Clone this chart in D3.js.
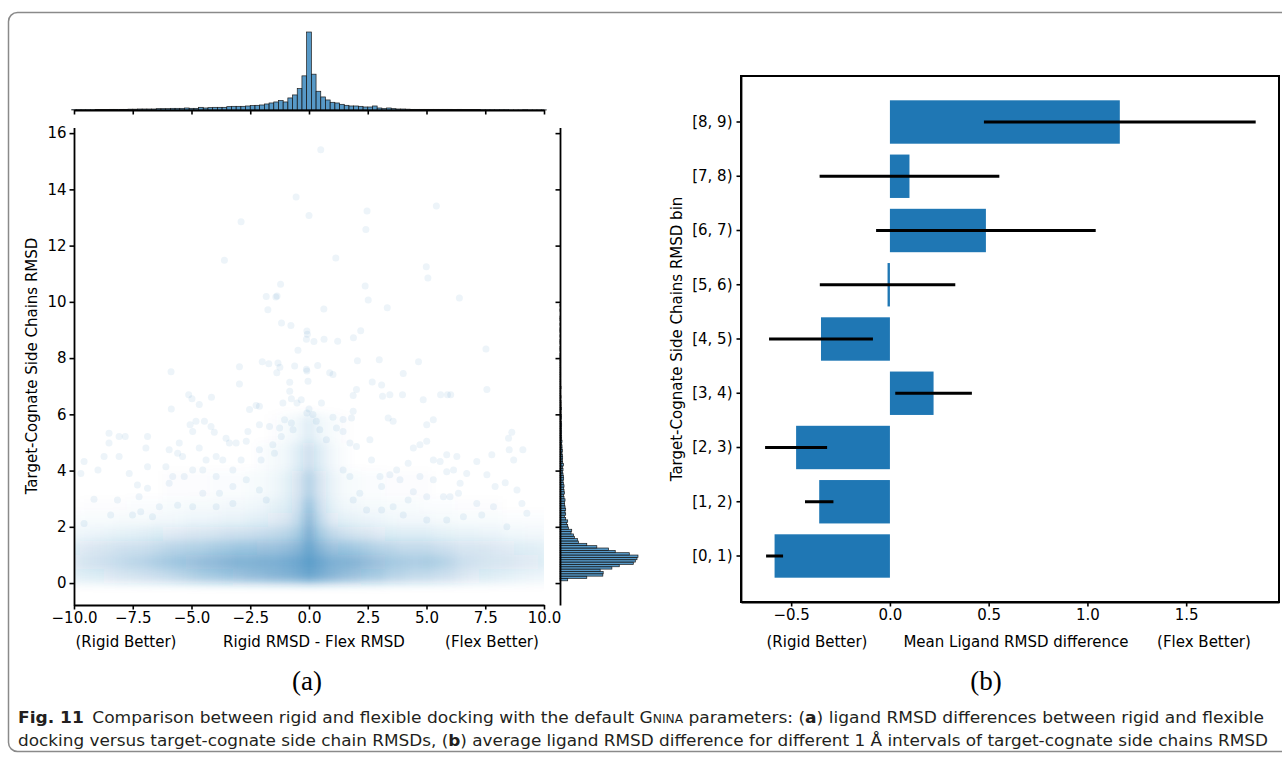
<!DOCTYPE html>
<html>
<head>
<meta charset="utf-8">
<script src="https://cdn.jsdelivr.net/npm/d3@7"></script>
<style>
  body { margin: 0; background: #fff; }
  svg text { font-family: "DejaVu Sans", sans-serif; fill: #000; }
</style>
</head>
<body>
<div id="chart"></div>
<script>
// ---- panel (a): marginal histogram of Rigid RMSD - Flex RMSD, bins of 0.2 starting at -10.1
const xHistStart = -10.1;
const xHistBinWidth = 0.2;
const xHistCounts = [
  1, 1, 1, 1, 1, 1.5, 1.5, 1.5,
  2, 2, 2, 2, 2.5, 2.5, 3, 3,
  3, 3, 4, 4, 4, 5, 5, 5, 6,
  5, 5, 8, 6, 7, 8, 8, 8, 10, 11, 11, 11, 12, 13, 14, 15, 18, 21, 24, 28, 24, 36, 45, 64, 102,
  233,
  107, 56, 39, 30, 23, 21, 17, 14, 12, 12, 11, 9, 9, 12, 6, 4, 6, 4, 3, 3, 2.5, 2, 2, 2, 2,
  2, 2, 2, 2, 2, 1.5, 2, 1.5, 1.5, 1.5, 1.5, 1, 1, 1, 1, 1, 1, 0.5, 0.5, 0.5, 1, 0.5, 0.5, 0.5, 0.5
];

// marginal histogram of side chain RMSD, bins of 1/12 starting at 0.08
const yHistStart = 0.08;
const yHistBinWidth = 1 / 12;
const yHistCounts = [
  23, 80, 128, 129, 120, 155, 177, 219, 225, 230, 233, 207, 165, 145, 110, 80, 55, 52, 43, 40,
  33, 35, 25, 23, 20, 23, 17, 13, 17, 15, 17,
  15, 14, 13, 15, 12, 11, 13, 12,
  11, 12, 10, 9, 11, 10, 9, 8,
  9, 8, 10, 8, 7, 8, 7, 6,
  7, 6, 6, 5, 6, 5, 5, 4, 5, 4,
  4, 5, 4, 3, 4, 4, 3, 3, 4, 3, 3, 3,
  2, 3, 2, 2, 2, 3, 2, 2, 2, 1, 2, 2, 1, 2, 1, 1, 2, 1,
  1, 1, 0, 1, 1, 0, 1, 1, 0, 1, 0, 1, 1, 0, 1, 0, 1, 1, 0, 0, 1, 0, 1, 0
];

const densityXStart = -10;   // cell centres every 0.5
const densityXStep = 0.5;
const densityRowEdges = [0, 0.5, 1, 1.5, 2, 2.5, 3, 4, 5, 6];
const densityRow0 = [0.11,0.13,0.14,0.16,0.19,0.2,0.22,0.24,0.27,0.3,0.34,0.38,0.4,0.43,0.46,0.49,0.51,0.54,0.57,0.6,0.66,0.6,0.54,0.49,0.45,0.4,0.38,0.32,0.3,0.27,0.27,0.24,0.22,0.18,0.15,0.14,0.12,0.11,0.09,0.08,0.07];
const densityRow1 = [0.16,0.2,0.22,0.24,0.27,0.3,0.32,0.36,0.4,0.43,0.46,0.49,0.51,0.54,0.57,0.57,0.58,0.59,0.62,0.65,0.72,0.65,0.59,0.57,0.54,0.49,0.45,0.4,0.38,0.36,0.38,0.35,0.3,0.24,0.22,0.2,0.19,0.18,0.16,0.15,0.13];
const densityRow2 = [0.13,0.16,0.18,0.2,0.22,0.23,0.24,0.27,0.3,0.32,0.34,0.35,0.38,0.4,0.43,0.43,0.45,0.46,0.49,0.54,0.66,0.54,0.46,0.43,0.4,0.36,0.32,0.3,0.27,0.27,0.27,0.24,0.22,0.19,0.19,0.18,0.16,0.15,0.13,0.12,0.11];
const densityRow3 = [0.06,0.07,0.08,0.09,0.1,0.11,0.12,0.14,0.15,0.16,0.18,0.19,0.2,0.22,0.23,0.24,0.26,0.28,0.31,0.38,0.58,0.38,0.28,0.23,0.2,0.18,0.15,0.14,0.13,0.13,0.13,0.11,0.1,0.09,0.09,0.08,0.08,0.06,0.06,0.05,0.05];
const densityRow4 = [0.02,0.03,0.03,0.03,0.04,0.04,0.04,0.05,0.05,0.06,0.07,0.07,0.08,0.09,0.09,0.11,0.12,0.15,0.18,0.27,0.5,0.27,0.15,0.11,0.09,0.08,0.07,0.06,0.05,0.05,0.05,0.04,0.04,0.03,0.03,0.03,0.03,0.02,0.02,0.02,0.02];
const densityRow5 = [0,0.01,0.01,0.01,0.01,0.02,0.02,0.02,0.03,0.03,0.04,0.04,0.04,0.05,0.05,0.06,0.07,0.1,0.13,0.22,0.42,0.22,0.1,0.06,0.05,0.04,0.04,0.03,0.03,0.03,0.02,0.02,0.02,0.01,0.01,0.01,0.01,0,0,0,0];
const densityRow6 = [0,0,0,0,0,0,0,0,0.01,0.01,0.01,0.01,0.02,0.02,0.02,0.03,0.04,0.06,0.1,0.18,0.32,0.18,0.08,0.04,0.03,0.02,0.02,0.01,0.01,0.01,0.01,0,0,0,0,0,0,0,0,0,0];
const densityRow7 = [0,0,0,0,0,0,0,0,0,0,0,0,0,0,0,0,0.02,0.04,0.06,0.12,0.22,0.12,0.05,0.02,0,0,0,0,0,0,0,0,0,0,0,0,0,0,0,0,0];
const densityRow8 = [0,0,0,0,0,0,0,0,0,0,0,0,0,0,0,0,0,0.01,0.03,0.06,0.12,0.06,0.03,0.01,0,0,0,0,0,0,0,0,0,0,0,0,0,0,0,0,0];
const densityRows = [densityRow0, densityRow1, densityRow2, densityRow3, densityRow4, densityRow5, densityRow6, densityRow7, densityRow8];

// individual points that can be told apart (x = rigid - flex, y = side chain RMSD)
const sparsePoints = [
  [0.50,15.41],[-0.55,13.73],[-2.89,12.85],[0.0,13.07],[2.47,13.23],[5.42,13.41],[2.42,12.57],
  [-3.6,11.48],[1.14,11.56],[4.99,11.25],[5.06,10.85],[-1.21,10.63],[-1.82,10.19],[-1.41,10.17],
  [-1.36,10.21],[2.39,10.56],[2.52,10.07],[6.40,10.14],[-1.75,9.72],[0.63,9.75],[3.33,9.79],
  [-1.17,9.25],[-0.77,9.16],[-0.09,8.96],[-0.07,8.85],[-0.11,8.67],[0.21,8.59],[0.64,8.67],
  [1.22,8.60],[1.89,8.72],[2.20,8.97],[-0.47,8.28],[7.53,8.32],[-1.99,7.87],[-1.71,7.80],
  [-1.32,7.83],[2.06,7.91],[2.99,7.94],[4.66,7.87],[-2.96,7.69],[-0.61,7.72],[0.37,7.74],
  [-1.24,7.67],[-0.11,7.60],[-5.87,7.51],
  [-1.37,7.48],[-0.09,7.54],[-2.96,7.08],[-0.82,7.14],[-0.04,7.18],[0.88,7.48],[1.02,7.42],
  [4.01,7.45],[2.69,7.15],[3.09,7.04],[7.57,6.88],[-0.82,6.82],[-0.75,6.55],[-1.11,6.40],
  [-0.33,6.52],[-0.51,6.40],[0.53,6.40],[2.02,6.88],[1.88,6.67],[3.13,6.64],[3.44,6.70],
  [3.98,6.70],[4.86,6.52],[5.89,6.70],[6.03,6.70],[5.6,6.70],[-5.12,6.70],[-4.98,6.55],
  [-4.67,6.35],[-4.15,6.61],[-5.86,6.19],[0.0,6.19],[-2.53,6.17],[-2.11,6.29],[-2.25,6.31],
  [-0.09,6.05],[0.17,5.99],[0.31,5.75],[1.88,6.11],[1.81,5.87],[1.45,5.82],[1.02,5.90],
  [3.37,5.87],[3.58,5.75],[5.29,5.81],[5.01,5.63],[8.63,5.36],[8.49,5.15],[8.52,4.74],
  [7.78,4.56],[9.10,4.74],[8.71,4.38],[7.14,4.32],[6.71,3.90],[8.35,3.57],[7.57,3.85],
  [7.92,3.43],[8.85,3.31],[9.06,2.83],[7.14,2.83],[7.35,2.42],[9.27,2.48],[8.42,2.0],
  [-8.51,5.33],[-8.08,5.21],[-7.82,5.21],[-6.87,5.21],[-8.51,4.98],[-8.08,4.50],[-6.94,4.80],
  [-6.87,4.14],[-8.72,4.50],[-9.57,4.32],[-9.71,3.90],[-8.98,4.02],[-7.65,3.90],[-7.23,3.07],
  [-9.15,2.98],[-8.44,2.42],[-9.57,2.12],[-8.15,2.95],[-7.30,3.49],[-6.87,3.37],[-6.09,4.14],
  [-5.80,3.79],[-5.59,4.62],[-5.95,4.74],[-5.52,4.98],[-5.38,4.50],[-4.67,4.80],[-4.95,5.39],
  [-5.06,5.63],[-4.81,5.75],[-4.45,5.75],[-4.17,5.57],[-4.03,5.36],[-3.53,5.15],[-3.39,4.98],
  [-3.10,4.98],[-2.67,5.04],[-2.60,5.39],[-2.11,5.63],[-1.68,5.57],[-1.25,5.51],[-1.18,5.21],
  [-1.04,5.81],[-0.75,5.69],[-0.68,5.45],[-1.54,4.92],[-1.47,4.62],[-2.11,4.74],[-2.04,4.38],
  [-2.89,4.38],[-3.24,4.02],[-3.67,4.38],[-3.95,4.50],[-4.38,4.38],[-4.52,4.02],[-3.95,3.79],
  [-4.95,4.02],[-5.31,3.79],[-5.95,3.55],[-4.52,3.19],[-3.81,3.19],[-3.24,3.43],[-2.67,3.67],
  [-2.11,3.31],[-1.82,2.95],[-3.24,2.83],[-3.95,2.71],[-4.95,2.71],[-5.59,2.77],[-6.37,2.71],
  [-6.66,2.36],[-7.51,2.42],[-7.16,2.54],
  [0.46,5.45],[0.74,5.10],[1.17,5.51],[1.45,5.39],[1.74,4.98],[2.02,4.86],[2.59,5.10],
  [2.66,4.38],[3.02,3.79],[3.09,3.43],[3.44,3.85],[3.87,3.67],[3.73,4.02],[4.22,4.26],
  [4.44,4.80],[4.72,4.92],[5.01,5.04],[5.29,4.38],[5.58,4.32],[5.86,4.56],[6.29,4.50],
  [5.86,3.96],[6.15,4.02],[5.29,3.67],[4.72,3.79],[4.44,3.25],[5.01,3.07],[5.72,3.07],
  [6.00,3.07],[6.43,3.55],[4.22,2.95],[3.58,2.71],[3.09,2.60],[2.45,2.60],[1.88,2.95],
  [2.16,3.19],[1.45,4.02],[1.74,3.79],[5.01,2.24],[4.01,2.42],[5.86,2.24],[6.57,2.36],
  [7.85,2.71],[6.36,3.19]
];

// ---- panel (b): mean ligand RMSD difference per side chain RMSD bin
const rmsdBins = ["[0, 1)", "[1, 2)", "[2, 3)", "[3, 4)", "[4, 5)", "[5, 6)", "[6, 7)", "[7, 8)", "[8, 9)"];
const meanDiff = [-0.584, -0.358, -0.475, 0.221, -0.349, -0.012, 0.486, 0.099, 1.164];
const diffError = [0.043, 0.072, 0.157, 0.194, 0.263, 0.343, 0.556, 0.455, 0.688];

const scatterXTicks = [-10, -7.5, -5, -2.5, 0, 2.5, 5, 7.5, 10];
const scatterYTicks = [0, 2, 4, 6, 8, 10, 12, 14, 16];
const barXTicks = [-0.5, 0, 0.5, 1, 1.5];

const blue = '#1f77b4';
const fontSize = 15;

const svg = d3.select('#chart').append('svg')
  .attr('width', 1282)
  .attr('height', 759);

// figure frame
svg.append('rect')
  .attr('x', 8.5).attr('y', 12.5)
  .attr('width', 1300).attr('height', 739)
  .attr('rx', 9).attr('ry', 9)
  .attr('fill', 'none')
  .attr('stroke', '#8a8a8a')
  .attr('stroke-width', 1.5);

const defs = svg.append('defs');
defs.append('clipPath').attr('id', 'joint-clip')
  .append('rect').attr('x', 74).attr('y', 127).attr('width', 470).attr('height', 478);
defs.append('filter').attr('id', 'soft')
  .attr('x', '-10%').attr('y', '-10%').attr('width', '120%').attr('height', '120%')
  .append('feGaussianBlur').attr('stdDeviation', '4 5');

// ================= (a) joint plot =================
const x = d3.scaleLinear().domain([-10, 10]).range([74, 544]);
const y = d3.scaleLinear().domain([-0.78, 16.2]).range([605, 127.5]);

const joint = svg.append('g').attr('clip-path', 'url(#joint-clip)');

// dense part of the cloud
const cells = [];
densityRows.forEach(function(row, r) {
  row.forEach(function(v, c) {
    if (v > 0) cells.push({ cx: densityXStart + c * densityXStep, y0: densityRowEdges[r], y1: densityRowEdges[r + 1], v: v });
  });
});
joint.append('g')
  .attr('filter', 'url(#soft)')
  .selectAll('rect')
  .data(cells)
  .enter().append('rect')
  .attr('x', function(d) { return x(d.cx - densityXStep / 2); })
  .attr('width', function(d) { return x(d.cx + densityXStep / 2) - x(d.cx - densityXStep / 2); })
  .attr('y', function(d) { return y(d.y1); })
  .attr('height', function(d) { return y(d.y0) - y(d.y1); })
  .attr('fill', blue)
  .attr('fill-opacity', function(d) { return d.v; });

joint.append('g')
  .selectAll('circle')
  .data(sparsePoints)
  .enter().append('circle')
  .attr('cx', function(d) { return x(d[0]); })
  .attr('cy', function(d) { return y(d[1]); })
  .attr('r', 3.5)
  .attr('fill', blue)
  .attr('fill-opacity', 0.08);

function styleAxis(g) {
  g.selectAll('.domain').attr('stroke', '#000').attr('stroke-width', 1.8);
  g.selectAll('.tick line').attr('stroke', '#000').attr('stroke-width', 1.6);
  g.selectAll('.tick text').attr('font-size', fontSize).attr('font-family', '"DejaVu Sans", sans-serif').attr('fill', '#000');
}

svg.append('g')
  .attr('transform', 'translate(0,605)')
  .call(d3.axisBottom(x).tickValues(scatterXTicks).tickFormat(d3.format('.1f')).tickSize(4.5).tickPadding(3).tickSizeOuter(0))
  .call(styleAxis);

svg.append('g')
  .attr('transform', 'translate(74,0)')
  .call(d3.axisLeft(y).tickValues(scatterYTicks).tickFormat(d3.format('d')).tickSize(4.5).tickPadding(3).tickSizeOuter(0))
  .call(styleAxis);

// top marginal histogram
const hTop = d3.scaleLinear().domain([0, 245]).range([110, 28]);
svg.append('g')
  .selectAll('rect')
  .data(xHistCounts.map(function(c, i) { return { x0: xHistStart + i * xHistBinWidth, c: c }; }))
  .enter().append('rect')
  .attr('x', function(d) { return x(d.x0); })
  .attr('width', function(d) { return x(d.x0 + xHistBinWidth) - x(d.x0); })
  .attr('y', function(d) { return hTop(d.c); })
  .attr('height', function(d) { return hTop(0) - hTop(d.c); })
  .attr('fill', blue).attr('fill-opacity', 0.75)
  .attr('stroke', '#1b1b1b').attr('stroke-width', 0.7);

svg.append('g')
  .attr('transform', 'translate(0,110)')
  .call(d3.axisBottom(x).tickValues(scatterXTicks).tickFormat('').tickSize(4.5).tickSizeOuter(0))
  .call(styleAxis);

// right marginal histogram
const hRight = d3.scaleLinear().domain([0, 245]).range([560, 642]);
svg.append('g')
  .selectAll('rect')
  .data(yHistCounts.map(function(c, i) { return { y0: yHistStart + i * yHistBinWidth, c: c }; }).filter(function(d) { return d.c > 0; }))
  .enter().append('rect')
  .attr('x', hRight(0))
  .attr('width', function(d) { return hRight(d.c) - hRight(0); })
  .attr('y', function(d) { return y(d.y0 + yHistBinWidth); })
  .attr('height', function(d) { return y(d.y0) - y(d.y0 + yHistBinWidth); })
  .attr('fill', blue).attr('fill-opacity', 0.75)
  .attr('stroke', '#1b1b1b').attr('stroke-width', 0.7);

svg.append('g')
  .attr('transform', 'translate(560,0)')
  .call(d3.axisLeft(y).tickValues(scatterYTicks).tickFormat('').tickSize(4.5).tickSizeOuter(0))
  .call(styleAxis);

// labels of (a)
svg.append('text')
  .attr('transform', 'translate(37,366) rotate(-90)')
  .attr('text-anchor', 'middle')
  .attr('font-size', fontSize)
  .text('Target-Cognate Side Chains RMSD');

[['(Rigid Better)', 126], ['Rigid RMSD - Flex RMSD', 314], ['(Flex Better)', 492]].forEach(function(d) {
  svg.append('text')
    .attr('x', d[1]).attr('y', 647)
    .attr('text-anchor', 'middle')
    .attr('font-size', fontSize)
    .text(d[0]);
});

// ================= (b) bar chart =================
const bx = d3.scaleLinear().domain([-0.754, 1.97]).range([741, 1279]);
const by = d3.scaleBand().domain(rmsdBins.slice().reverse()).range([76, 602]).paddingInner(0.2).paddingOuter(0.448);

const bars = rmsdBins.map(function(b, i) { return { bin: b, mean: meanDiff[i], err: diffError[i] }; });

svg.append('g')
  .selectAll('rect')
  .data(bars)
  .enter().append('rect')
  .attr('x', function(d) { return bx(Math.min(0, d.mean)); })
  .attr('width', function(d) { return Math.abs(bx(d.mean) - bx(0)); })
  .attr('y', function(d) { return by(d.bin); })
  .attr('height', by.bandwidth())
  .attr('fill', blue);

svg.append('g')
  .selectAll('line')
  .data(bars)
  .enter().append('line')
  .attr('x1', function(d) { return bx(d.mean - d.err); })
  .attr('x2', function(d) { return bx(d.mean + d.err); })
  .attr('y1', function(d) { return by(d.bin) + by.bandwidth() / 2; })
  .attr('y2', function(d) { return by(d.bin) + by.bandwidth() / 2; })
  .attr('stroke', '#000')
  .attr('stroke-width', 3);

svg.append('g')
  .attr('transform', 'translate(0,602)')
  .call(d3.axisBottom(bx).tickValues(barXTicks).tickFormat(d3.format('.1f')).tickSize(4.5).tickPadding(3).tickSizeOuter(0))
  .call(styleAxis);

svg.append('g')
  .attr('transform', 'translate(741,0)')
  .call(d3.axisLeft(by).tickSize(4.5).tickPadding(4).tickSizeOuter(0))
  .call(styleAxis);

svg.append('rect')
  .attr('x', 741).attr('y', 76)
  .attr('width', 538).attr('height', 526)
  .attr('fill', 'none')
  .attr('stroke', '#000')
  .attr('stroke-width', 2);

svg.append('text')
  .attr('transform', 'translate(682,339) rotate(-90)')
  .attr('text-anchor', 'middle')
  .attr('font-size', fontSize)
  .text('Target-Cognate Side Chains RMSD bin');

[['(Rigid Better)', 817], ['Mean Ligand RMSD difference', 1016], ['(Flex Better)', 1204]].forEach(function(d) {
  svg.append('text')
    .attr('x', d[1]).attr('y', 647)
    .attr('text-anchor', 'middle')
    .attr('font-size', fontSize)
    .text(d[0]);
});

// sub-figure letters
[['(a)', 307], ['(b)', 986]].forEach(function(d) {
  svg.append('text')
    .attr('x', d[1]).attr('y', 690)
    .attr('text-anchor', 'middle')
    .attr('font-size', 27)
    .style('font-family', '"Liberation Serif", "DejaVu Serif", serif')
    .text(d[0]);
});

// caption
const captionFont = '"Liberation Sans Narrow", "DejaVu Sans Condensed", "Liberation Sans", sans-serif';
const cap1 = svg.append('text')
  .attr('x', 18).attr('y', 723)
  .attr('font-size', 16)
  .attr('textLength', 1246).attr('lengthAdjust', 'spacingAndGlyphs')
  .style('font-family', captionFont)
  .style('fill', '#231f20');
cap1.append('tspan').attr('font-weight', 'bold').text('Fig. 11');
cap1.append('tspan').text('\u2002Comparison between rigid and flexible docking with the default G');
cap1.append('tspan').attr('font-size', 11.5).text('NINA');
cap1.append('tspan').text(' parameters: (');
cap1.append('tspan').attr('font-weight', 'bold').text('a');
cap1.append('tspan').text(') ligand RMSD differences between rigid and flexible');

const cap2 = svg.append('text')
  .attr('x', 18).attr('y', 746)
  .attr('font-size', 16)
  .attr('textLength', 1250).attr('lengthAdjust', 'spacingAndGlyphs')
  .style('font-family', captionFont)
  .style('fill', '#231f20');
cap2.append('tspan').text('docking versus target-cognate side chain RMSDs, (');
cap2.append('tspan').attr('font-weight', 'bold').text('b');
cap2.append('tspan').text(') average ligand RMSD difference for different 1 \u00c5 intervals of target-cognate side chains RMSD');
</script>
</body>
</html>
